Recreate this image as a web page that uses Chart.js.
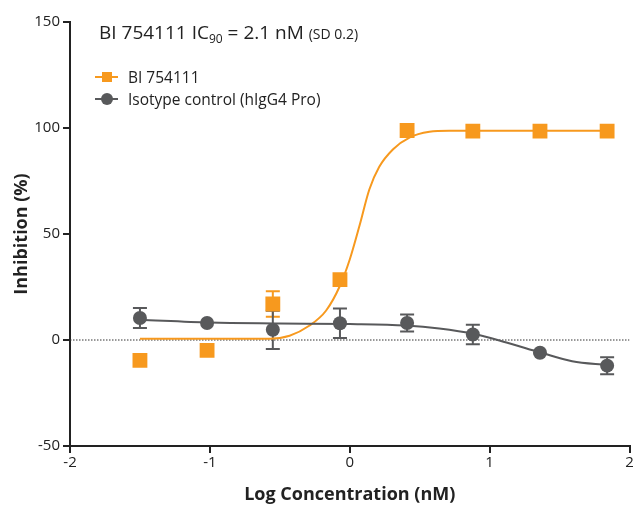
<!DOCTYPE html>
<html>
<head>
<meta charset="utf-8">
<script src="https://cdn.jsdelivr.net/npm/chart.js@4.4.0/dist/chart.umd.min.js"></script>
<style>
  body { margin: 0; background: #fff; font-family: "Open Sans", sans-serif; color: #222; overflow: hidden; }
  #wrap { position: relative; width: 634px; height: 506px; overflow: hidden; }
  #title { position: absolute; left: 99px; top: 19px; font-size: 19px; white-space: nowrap; }
  #title sub { font-size: 12px; vertical-align: -4px; line-height: 0; }
  #title small { font-size: 14px; }
  .leg { position: absolute; left: 95px; font-size: 15.5px; white-space: nowrap; height: 20px; line-height: 20px; }
  .leg .ln { position: absolute; left: 0; top: 9px; width: 23px; height: 2px; }
  .leg .mk { position: absolute; }
  .leg .txt { position: absolute; left: 33px; top: 0; }
</style>
</head>
<body>
<div id="wrap">
  <canvas id="chart" width="640" height="506"></canvas>
  <div id="title">BI 754111 IC<sub>90</sub> = 2.1 nM <small>(SD 0.2)</small></div>
  <div class="leg" style="top:67px">
    <span class="ln" style="background:#f7991e"></span>
    <span class="mk" style="left:7px;top:5px;width:10px;height:10px;background:#f7991e"></span>
    <span class="txt">BI 754111</span>
  </div>
  <div class="leg" style="top:89px">
    <span class="ln" style="background:#58595b"></span>
    <span class="mk" style="left:6px;top:4px;width:12px;height:12px;border-radius:50%;background:#58595b"></span>
    <span class="txt">Isotype control (hIgG4 Pro)</span>
  </div>
</div>
<script>
// measured points (log nM)
const logConc = [-1.5, -1.02, -0.55, -0.07, 0.41, 0.88, 1.36, 1.84];
const bi754111 = [-9.6, -4.9, 17, 28.5, 98.8, 98.5, 98.5, 98.5];
const bi754111Err = [0, 0, 6, 0, 0, 0, 0, 0];
const isotype = [10.4, 8, 4.8, 7.9, 8, 2.6, -6, -12.1];
const isotypeErr = [4.7, 0, 9, 7, 4, 4.6, 0, 4];

// fitted curves
const biFitX = [-1.5, -1.0, -0.57, -0.43, -0.29, -0.17, -0.07, 0, 0.07, 0.14, 0.21, 0.31, 0.43, 0.57, 0.71, 1.84];
const biFitY = [0.6, 0.6, 0.6, 2, 6.7, 13.8, 25.6, 38, 54, 71, 81.6, 90, 95.6, 98.2, 98.7, 98.7];
const isoFitX = [-1.5, -1.0, -0.5, 0, 0.4, 0.64, 0.89, 1.12, 1.36, 1.59, 1.84];
const isoFitY = [9.5, 8.2, 7.8, 7.5, 6.8, 5.4, 2.8, -1.2, -5.8, -10, -11.8];

const xTicks = [-2, -1, 0, 1, 2];
const yTicks = [-50, 0, 50, 100, 150];

const orange = '#f7991e';
const gray = '#58595b';
const axisColor = '#222';

const toPoints = (xs, ys) => xs.map((x, i) => ({ x: x, y: ys[i] }));

// draw vertical error bars with caps
const errorBars = {
    id: 'errorBars',
    beforeDatasetsDraw(chart) {
        const ctx = chart.ctx;
        const xs = chart.scales.x;
        const ys = chart.scales.y;
        const draw = (vals, errs, color) => {
            ctx.save();
            ctx.strokeStyle = color;
            ctx.lineWidth = 2;
            vals.forEach((v, i) => {
                if (!errs[i]) return;
                const px = xs.getPixelForValue(logConc[i]);
                const top = ys.getPixelForValue(v + errs[i]);
                const bot = ys.getPixelForValue(v - errs[i]);
                ctx.beginPath();
                ctx.moveTo(px, top); ctx.lineTo(px, bot);
                ctx.moveTo(px - 7, top); ctx.lineTo(px + 7, top);
                ctx.moveTo(px - 7, bot); ctx.lineTo(px + 7, bot);
                ctx.stroke();
            });
            ctx.restore();
        };
        draw(bi754111, bi754111Err, orange);
        draw(isotype, isotypeErr, gray);
    }
};

new Chart(document.getElementById('chart'), {
    type: 'scatter',
    data: {
        datasets: [
            {
                label: 'Isotype control (hIgG4 Pro)',
                data: toPoints(logConc, isotype),
                pointStyle: 'circle',
                pointRadius: 7,
                backgroundColor: gray,
                borderColor: gray,
                borderWidth: 0
            },
            {
                label: 'BI 754111',
                data: toPoints(logConc, bi754111),
                pointStyle: 'rect',
                pointRadius: 10.5,
                backgroundColor: orange,
                borderColor: orange,
                borderWidth: 0
            },
            {
                label: 'isotype fit',
                data: toPoints(isoFitX, isoFitY),
                showLine: true,
                pointRadius: 0,
                borderColor: gray,
                borderWidth: 2,
                cubicInterpolationMode: 'monotone'
            },
            {
                label: 'BI fit',
                data: toPoints(biFitX, biFitY),
                showLine: true,
                pointRadius: 0,
                borderColor: orange,
                borderWidth: 2,
                cubicInterpolationMode: 'monotone'
            },
            {
                label: 'zero',
                data: [{ x: -2, y: 0 }, { x: 2, y: 0 }],
                showLine: true,
                pointRadius: 0,
                borderColor: '#333',
                borderWidth: 1,
                borderDash: [1.5, 1.5]
            }
        ]
    },
    options: {
        responsive: false,
        animation: false,
        layout: { padding: { top: 22, right: 0 } },
        plugins: {
            legend: { display: false },
            tooltip: { enabled: false }
        },
        scales: {
            x: {
                type: 'linear',
                min: -2,
                max: 2,
                afterFit(scale) { scale.height = 60; },
                afterBuildTicks(scale) { scale.ticks = xTicks.map(v => ({ value: v })); },
                ticks: { color: axisColor, font: { family: 'Open Sans', size: 15 }, padding: 1 },
                grid: { drawOnChartArea: false, color: axisColor, lineWidth: 2, tickLength: 7 },
                border: { color: axisColor, width: 2 },
                title: {
                    display: true,
                    text: 'Log Concentration (nM)',
                    color: axisColor,
                    font: { family: 'Open Sans', size: 18, weight: 'bold' },
                    padding: { top: 0, bottom: 0 }
                }
            },
            y: {
                min: -50,
                max: 150,
                afterFit(scale) { scale.width = 70; },
                afterBuildTicks(scale) { scale.ticks = yTicks.map(v => ({ value: v })); },
                ticks: { color: axisColor, font: { family: 'Open Sans', size: 15 }, padding: 3 },
                grid: { drawOnChartArea: false, color: axisColor, lineWidth: 2, tickLength: 7 },
                border: { color: axisColor, width: 2 },
                title: {
                    display: true,
                    text: 'Inhibition (%)',
                    color: axisColor,
                    font: { family: 'Open Sans', size: 18, weight: 'bold' },
                    padding: { top: 11, bottom: 0 }
                }
            }
        }
    },
    plugins: [errorBars]
});
</script>
</body>
</html>
